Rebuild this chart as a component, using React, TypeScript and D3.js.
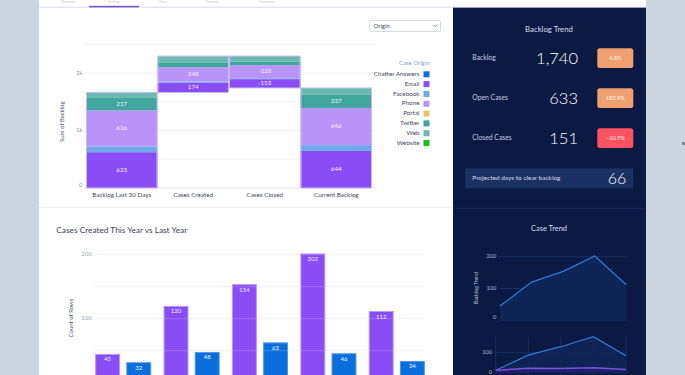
import React from 'react';
import * as d3 from 'd3';

// ---------- data ----------
const origins = ['Chatter Answers', 'Email', 'Facebook', 'Phone', 'Portal', 'Twitter', 'Web', 'Website'];
const originColors = ['#0b6fd9', '#8a4cf4', '#6ea9e9', '#b894f8', '#e5c76b', '#41a79e', '#6bbaaf', '#16c21b'];
const stages = ['Backlog Last 30 Days', 'Cases Created', 'Cases Closed', 'Current Backlog'];
const backlogLast30 = [0, 623, 100, 626, 0, 217, 95, 0];
const casesCreated = [0, 174, 18, 248, 0, 85, 108, 0];
const casesClosed = [0, -153, -16, -228, 0, -65, -92, 0];
const currentBacklog = [0, 644, 102, 646, 0, 237, 111, 0];
const backlogTicks = [0, 500, 1000, 1500, 2000, 2500];

const periods = ['P1', 'P2', 'P3', 'P4', 'P5'];
const yearSeries = ['Last Year', 'This Year'];
const yearColors = ['#8a4cf4', '#0a6fdb'];
const yearStrokes = ['#b597fa', '#4f97ea'];
const lastYear = [45, 120, 154, 202, 112];
const thisYear = [32, 48, 63, 46, 34];
const countTicks = [50, 100, 150, 200];

const kpiLabels = ['Backlog', 'Open Cases', 'Closed Cases'];
const kpiValues = [1740, 633, 151];
const kpiChanges = [4.8, 183.9, -10.9];
const projectedDays = 66;

const trendTicks = [0, 100, 200];
const trendCreated = [12, 88, 130, 180, 85];
const trendClosed = [12, 22, 21, 25, 16];
const trendLowerTicks = [0, 100];

const tabs = ['Overview', 'Backlog', 'Cases', 'Channels', 'Customers'];

const FONT = 'Lato, "Open Sans", sans-serif';

export default function App() {
  // ---------- waterfall ----------
  const stageVals = [backlogLast30, casesCreated, casesClosed, currentBacklog];
  const rows = stages.map((s, j) => {
    const r: any = { stage: s };
    origins.forEach((o, i) => (r[o] = Math.abs(stageVals[j][i])));
    return r;
  });
  const totals = stageVals.map(v => d3.sum(v));
  const offsets = [0, totals[0], totals[0] + totals[1] + totals[2], 0];
  const stacked = d3.stack().keys(origins)(rows);

  const xW = d3.scaleBand().domain(stages).range([86, 372]).padding(0);
  const yW = d3.scaleLinear().domain([0, 2500]).range([188, 44.25]);

  const segs: any[] = [];
  stacked.forEach((ser, i) => {
    ser.forEach((d, j) => {
      const v = stageVals[j][i];
      if (v === 0) return;
      const y0 = offsets[j] + d[0];
      const y1 = offsets[j] + d[1];
      segs.push({ i, j, v, top: yW(y1), bot: yW(y0) });
    });
  });
  const barBounds = stages.map((s, j) => {
    const lo = offsets[j];
    const hi = offsets[j] + d3.sum(stageVals[j].map(Math.abs));
    return { top: yW(hi), bot: yW(lo) };
  });

  // ---------- grouped bars ----------
  const x0 = d3.scaleBand().domain(periods).range([89, 431]).paddingInner(0.18).paddingOuter(0.09);
  const x1 = d3.scaleBand().domain(yearSeries).range([0, x0.bandwidth()]).paddingInner(0.2);
  const yB = d3.scaleLinear().domain([0, 200]).range([382.7, 254.7]);
  const seriesVals = [lastYear, thisYear];

  // ---------- trends ----------
  const xT = d3.scalePoint().domain(periods).range([500, 626.3]);
  const yT = d3.scaleLinear().domain([0, 200]).range([320.3, 256.7]);
  const areaT = d3.area<number>().x((d, i) => xT(periods[i])!).y0(yT(0)).y1(d => yT(d));
  const lineT = d3.line<number>().x((d, i) => xT(periods[i])!).y(d => yT(d));

  const xL = d3.scalePoint().domain(periods).range([495.7, 626]);
  const yL = d3.scaleLinear().domain([0, 180]).range([372.7, 336.7]);
  const areaL = d3.area<number>().x((d, i) => xL(periods[i])!).y0(yL(0)).y1(d => yL(d));
  const lineL = d3.line<number>().x((d, i) => xL(periods[i])!).y(d => yL(d));

  const fmtK = (v: number) => (v === 0 ? '0' : `${v / 1000}k`);
  const kpiY = [58.2, 98.2, 138.2];

  return (
    <svg width={685} height={375} style={{ position: 'absolute', left: 0, top: 0, display: 'block' }} fontFamily={FONT}>
      <rect x={0} y={0} width={685} height={375} fill="#cbd5df" />
      <rect x={39} y={0} width={607} height={375} fill="#ffffff" />

      {/* tabs */}
      {tabs.map((t, i) => (
        <text key={t} x={[68, 114, 163, 212, 267][i]} y={3.2} fontSize={3.2} fill="#c3c8d3" textAnchor="middle">{t}</text>
      ))}
      <line x1={39} x2={646} y1={7.2} y2={7.2} stroke="#dcd7f0" strokeWidth={1} />
      <rect x={89} y={5.8} width={50} height={1.6} fill="#7459c4" />

      {/* separator */}
      <line x1={39} x2={453} y1={207.5} y2={207.5} stroke="#eceef3" />

      {/* dropdown */}
      <rect x={369.5} y={20.5} width={71} height={11} fill="#fff" stroke="#d8dce3" rx={1} />
      <text x={373.5} y={26.2} fontSize={6} fill="#3e4a5e" dominantBaseline="middle">Origin</text>
      <path d="M433.5,24.8 L435.5,26.8 L437.5,24.8" fill="none" stroke="#6b7486" strokeWidth={0.8} />

      {/* waterfall grid */}
      {backlogTicks.map(t => (
        <line key={t} x1={85} x2={377} y1={yW(t)} y2={yW(t)} stroke={t === 0 ? '#e1e4ea' : '#f0f1f4'} />
      ))}
      {backlogTicks.filter(t => t % 1000 === 0 && t <= 2000).map(t => (
        <text key={t} x={82.5} y={yW(t) - (t === 0 ? 2.5 : 0)} fontSize={6} fill="#8a93a6" textAnchor="end" dominantBaseline="middle">{fmtK(t)}</text>
      ))}
      <text transform="translate(62.7,121.7) rotate(-90)" fontSize={6} fill="#4b556a" textAnchor="middle" dominantBaseline="middle">Sum of Backlog</text>

      {segs.map((s, k) => (
        <rect key={k} x={xW(stages[s.j])!} y={s.top} width={xW.bandwidth()} height={s.bot - s.top} fill={originColors[s.i]} />
      ))}
      {barBounds.map((b, j) => (
        <rect key={j} x={xW(stages[j])! + 0.5} y={b.top} width={xW.bandwidth() - 1} height={b.bot - b.top} fill="none" stroke="#cbb8fb" strokeWidth={1} />
      ))}
      {segs.filter(s => s.bot - s.top > 8).map((s, k) => (
        <text key={k} x={xW(stages[s.j])! + xW.bandwidth() / 2} y={(s.top + s.bot) / 2} fontSize={6.3} fill="#f4f0ff" textAnchor="middle" dominantBaseline="middle">{s.v}</text>
      ))}
      {stages.map(s => (
        <text key={s} x={xW(s)! + xW.bandwidth() / 2} y={195.3} fontSize={6.3} fill="#3f4a60" textAnchor="middle" dominantBaseline="middle">{s}</text>
      ))}

      {/* legend */}
      <text x={429.5} y={63.3} fontSize={6} fill="#8fa2c6" textAnchor="end" dominantBaseline="middle">Case Origin</text>
      {origins.map((o, i) => (
        <g key={o}>
          <text x={419.5} y={74.3 + i * 9.82} fontSize={6.3} fill="#3e4a5e" textAnchor="end" dominantBaseline="middle">{o}</text>
          <rect x={423.5} y={74.3 + i * 9.82 - 3} width={6} height={6} fill={originColors[i]} />
        </g>
      ))}

      {/* grouped bar chart */}
      <text x={56.3} y={230.7} fontSize={8.3} fill="#3b4256" dominantBaseline="middle">Cases Created This Year vs Last Year</text>
      <text transform="translate(71.7,318) rotate(-90)" fontSize={6} fill="#4b556a" textAnchor="middle" dominantBaseline="middle">Count of Rows</text>
      {countTicks.filter(t => t % 100 === 0).map(t => (
        <text key={t} x={91.7} y={yB(t)} fontSize={6} fill="#9aa3b5" textAnchor="end" dominantBaseline="middle">{t}</text>
      ))}
      {countTicks.map(t => (
        <line key={t} x1={93} x2={425} y1={yB(t)} y2={yB(t)} stroke="#eef0f4" />
      ))}
      {periods.map((p, gi) => (
        <g key={p}>
          {yearSeries.map((s, si) => {
            const v = seriesVals[si][gi];
            const x = x0(p)! + x1(s)!;
            return (
              <g key={s}>
                <rect x={x + 0.5} y={yB(v) + 0.5} width={x1.bandwidth() - 1} height={yB(0) - yB(v)} fill={yearColors[si]} stroke={yearStrokes[si]} strokeWidth={1} />
                <text x={x + x1.bandwidth() / 2} y={yB(v) + 6} fontSize={6} fill="#eef0ff" textAnchor="middle" dominantBaseline="middle">{v}</text>
              </g>
            );
          })}
        </g>
      ))}
      {countTicks.map(t => (
        <line key={'o' + t} x1={93} x2={425} y1={yB(t)} y2={yB(t)} stroke="#ffffff" strokeOpacity={0.18} />
      ))}

      {/* dark panel */}
      <rect x={453} y={7.7} width={193} height={368} fill="#0a1a43" />
      <text x={549} y={30} fontSize={7.8} fill="#d8deea" textAnchor="middle" dominantBaseline="middle">Backlog Trend</text>
      {kpiLabels.map((l, i) => (
        <g key={l}>
          <text x={472.3} y={kpiY[i]} fontSize={6.8} fill="#c5cde0" dominantBaseline="middle">{l}</text>
          <text x={578} y={kpiY[i] + 5.8} fontSize={16.5} fill="#ffffff" fontWeight={300} textAnchor="end">{d3.format(',')(kpiValues[i])}</text>
          <rect x={597.3} y={kpiY[i] - 9.9} width={36} height={19.8} rx={2.5} fill={kpiChanges[i] >= 0 ? '#f0a06f' : '#fb5264'} />
          <text x={615.3} y={kpiY[i]} fontSize={5.6} fill="#fff4ee" textAnchor="middle" dominantBaseline="middle">{d3.format('.1f')(kpiChanges[i])}%</text>
        </g>
      ))}
      <rect x={465} y={168.3} width={168.3} height={20} fill="#1b3163" />
      <text x={472.3} y={178.5} fontSize={6.5} fill="#d4dbea" dominantBaseline="middle">Projected days to clear backlog</text>
      <text x={626.3} y={184.3} fontSize={16} fill="#ffffff" fontWeight={300} textAnchor="end">{projectedDays}</text>

      <line x1={453} x2={646} y1={208.3} y2={208.3} stroke="#16285a" />
      <text x={549} y={228.7} fontSize={7.5} fill="#d8deea" textAnchor="middle" dominantBaseline="middle">Case Trend</text>

      {/* upper trend */}
      {trendTicks.map(t => (
        <g key={t}>
          <line x1={499.7} x2={627} y1={yT(t)} y2={yT(t)} stroke="#1a2d5c" />
          <text x={496.3} y={yT(t) - (t === 0 ? 2.5 : 0)} fontSize={5.6} fill="#aeb8cc" textAnchor="end" dominantBaseline="middle">{t}</text>
        </g>
      ))}
      <text transform="translate(476.3,288) rotate(-90)" fontSize={5.3} fill="#b8c2d8" textAnchor="middle" dominantBaseline="middle">Backlog Trend</text>
      <path d={areaT(lastYear)!} fill="#0e2556" />
      <path d={lineT(lastYear)!} fill="none" stroke="#2f7ad9" strokeWidth={1.2} />

      {/* lower trend */}
      {periods.map(p => (
        <line key={p} x1={xL(p)!} x2={xL(p)!} y1={336.7} y2={375} stroke="#1a2d5c" />
      ))}
      {trendLowerTicks.map(t => (
        <g key={t}>
          <line x1={495.7} x2={627} y1={yL(t)} y2={yL(t)} stroke="#1a2d5c" />
          <text x={492} y={yL(t)} fontSize={5.6} fill="#aeb8cc" textAnchor="end" dominantBaseline="middle">{t}</text>
        </g>
      ))}
      <path d={areaL(trendCreated)!} fill="#0f2658" fillOpacity={0.9} />
      <path d={lineL(trendCreated)!} fill="none" stroke="#2f7ad9" strokeWidth={1.2} />
      <path d={areaL(trendClosed)!} fill="#221f6a" fillOpacity={0.8} />
      <path d={lineL(trendClosed)!} fill="none" stroke="#7b4fe3" strokeWidth={1.5} />

      <rect x={682} y={142} width={3} height={3} fill="#7f8896" />
    </svg>
  );
}
